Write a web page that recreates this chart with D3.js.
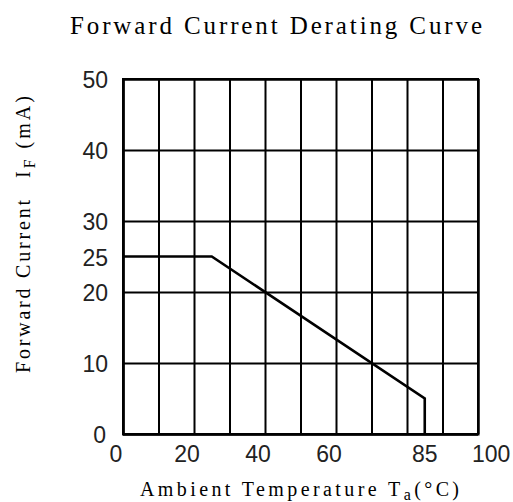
<!DOCTYPE html>
<html>
<head>
<meta charset="utf-8">
<script src="https://cdn.jsdelivr.net/npm/d3@7"></script>
<style>
  body { margin: 0; background: #fff; }
  svg { display: block; }
</style>
</head>
<body>
<svg width="513" height="502"></svg>
<script>
// derating curve points
const temps = [0, 25, 85, 85];
const currents = [25, 25, 5, 0];

const gridX = d3.range(0, 101, 10);
const gridY = d3.range(0, 51, 10);
const xTickLabels = [0, 20, 40, 60, 85, 100];
const yTickLabels = [0, 10, 20, 25, 30, 40, 50];

const svg = d3.select('svg');
const plotL = 123, plotR = 478, plotT = 79, plotB = 434;

const x = d3.scaleLinear().domain([0, 100]).range([plotL, plotR]);
const y = d3.scaleLinear().domain([0, 50]).range([plotB, plotT]);

// grid lines (drawn as axes with long ticks)
const gx = svg.append('g')
  .attr('transform', `translate(0,${plotB})`)
  .call(d3.axisBottom(x).tickValues(gridX).tickSize(-(plotB - plotT)).tickFormat(''));
const gy = svg.append('g')
  .attr('transform', `translate(${plotL},0)`)
  .call(d3.axisLeft(y).tickValues(gridY).tickSize(-(plotR - plotL)).tickFormat(''));
[gx, gy].forEach((g) => {
  g.selectAll('line').attr('stroke', '#000').attr('stroke-width', 2);
  g.select('.domain').attr('stroke', '#000').attr('stroke-width', 2);
});
svg.append('rect')
  .attr('x', plotL).attr('y', plotT)
  .attr('width', plotR - plotL).attr('height', plotB - plotT)
  .attr('fill', 'none').attr('stroke', '#000').attr('stroke-width', 2);

// the curve
const line = d3.line()
  .x((d, i) => x(temps[i]))
  .y((d) => y(d));
svg.append('path')
  .datum(currents)
  .attr('d', line)
  .attr('fill', 'none')
  .attr('stroke', '#000')
  .attr('stroke-width', 2.6);

// tick labels
const numFont = '"Liberation Sans", Arial, sans-serif';
svg.selectAll('.xl')
  .data(xTickLabels)
  .enter()
  .append('text')
  .attr('x', (d) => x(d) + (d === 100 ? -6 : d === 85 ? 0 : -7))
  .attr('y', 462)
  .attr('text-anchor', (d) => (d === 100 ? 'start' : 'middle'))
  .attr('font-family', numFont)
  .attr('font-size', 23)
  .attr('fill', '#222')
  .text((d) => d);

svg.selectAll('.yl')
  .data(yTickLabels)
  .enter()
  .append('text')
  .attr('x', (d) => (d === 0 ? 106 : 108))
  .attr('y', (d) => y(d) + 9)
  .attr('text-anchor', 'end')
  .attr('font-family', numFont)
  .attr('font-size', 23)
  .attr('fill', '#222')
  .text((d) => d);

// titles
const serif = '"Liberation Serif", "Times New Roman", serif';
svg.append('text')
  .attr('x', 70).attr('y', 34)
  .attr('font-family', serif).attr('font-size', 25)
  .attr('textLength', 412).attr('lengthAdjust', 'spacing')
  .text('Forward Current Derating Curve');

const xt = svg.append('text')
  .attr('x', 140).attr('y', 496)
  .attr('font-family', serif).attr('font-size', 20)
  .attr('letter-spacing', 3.4);
xt.append('tspan').text('Ambient Temperature T');
xt.append('tspan').attr('dy', 4).attr('font-size', 16).text('a');
xt.append('tspan').attr('dy', -4).text('(°C)');

svg.append('text')
  .attr('transform', 'translate(30,373) rotate(-90)')
  .attr('font-family', serif).attr('font-size', 20)
  .attr('textLength', 173).attr('lengthAdjust', 'spacing')
  .text('Forward Current');

const yt = svg.append('text')
  .attr('transform', 'translate(30,178) rotate(-90)')
  .attr('font-family', serif).attr('font-size', 20)
  .attr('letter-spacing', 3);
yt.append('tspan').text('I');
yt.append('tspan').attr('dy', 5).attr('font-size', 16).text('F');
yt.append('tspan').attr('dy', -5).text(' (mA)');
</script>
</body>
</html>
